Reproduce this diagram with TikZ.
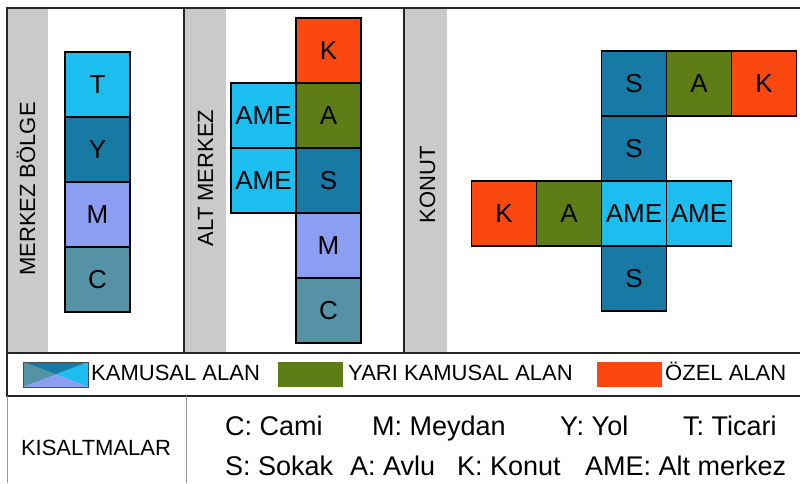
\documentclass[tikz,border=0pt]{standalone}
\usepackage{fontspec}
\setmainfont{Liberation Sans}
\usepackage{tikz}
\usetikzlibrary{positioning}

\begin{document}
\begin{tikzpicture}[x=1pt, y=-1pt]

        \useasboundingbox (0,0) rectangle (800,483);
        \definecolor{cyanblue}{RGB}{28, 190, 240}
        \definecolor{deepblue}{RGB}{22, 122, 165}
        \definecolor{lilacblue}{RGB}{140, 158, 242}
        \definecolor{tealgray}{RGB}{86, 146, 166}
        \definecolor{olivegreen}{RGB}{95, 125, 22}
        \definecolor{redorange}{RGB}{250, 72, 16}
        \definecolor{stripgray}{RGB}{202, 202, 202}
        \tikzset{
            cell/.style={draw=black, line width=1.3pt, outer sep=0pt, inner sep=0pt, minimum width=65pt, minimum height=65pt, font=\fontsize{26}{26}\selectfont},
            cyancell/.style={cell, fill=cyanblue},
            bluecell/.style={cell, fill=deepblue},
            lilaccell/.style={cell, fill=lilacblue},
            tealcell/.style={cell, fill=tealgray},
            greencell/.style={cell, fill=olivegreen},
            redcell/.style={cell, fill=redorange},
            frame/.style={draw=black!85, line width=1.5pt},
            tableline/.style={draw=black!40, line width=1pt},
            sidelabel/.style={rotate=90, anchor=base, inner sep=0pt, font=\fontsize{22}{22}\selectfont},
            keybox/.style={inner sep=0pt, outer sep=0pt, minimum width=65pt, minimum height=25pt},
            keytext/.style={anchor=base west, inner sep=0pt, font=\fontsize{22}{22}\selectfont},
            abbr/.style={anchor=base west, inner sep=0pt, font=\fontsize{27}{27}\selectfont}
        }


        \fill[stripgray] (8, 8) rectangle (48, 353);
        \fill[stripgray] (185, 8) rectangle (226, 353);
        \fill[stripgray] (405, 8) rectangle (447, 353);
        \draw[frame] (800, 8) -- (7, 8) -- (7, 396) -- (800, 396);
        \draw[frame] (7, 353) -- (800, 353);
        \draw[frame] (184, 8) -- (184, 353);
        \draw[frame] (404, 8) -- (404, 353);
        \draw[tableline] (7, 396) -- (7, 483);
        \draw[tableline] (186, 396) -- (186, 483);


        \node[sidelabel] (merkezlbl) at (35, 189) {MERKEZ BÖLGE};
        \node[sidelabel] (altlbl) at (213, 178) {ALT MERKEZ};
        \node[sidelabel] (konutlbl) at (435, 185) {KONUT};


        \node[cyancell] (mtic) at (97.5, 84.5) {T};
        \node[bluecell, below=0pt of mtic] (myol) {Y};
        \node[lilaccell, below=0pt of myol] (mmey) {M};
        \node[tealcell, below=0pt of mmey] (mcam) {C};


        \node[redcell] (akon) at (328.5, 50.5) {K};
        \node[greencell, below=0pt of akon] (aavl) {A};
        \node[bluecell, below=0pt of aavl] (asok) {S};
        \node[lilaccell, below=0pt of asok] (amey) {M};
        \node[tealcell, below=0pt of amey] (acam) {C};
        \node[cyancell, left=0pt of aavl] (aameone) {AME};
        \node[cyancell, left=0pt of asok] (aametwo) {AME};


        \node[bluecell] (ksokone) at (634, 83.5) {S};
        \node[greencell, right=0pt of ksokone] (kavlone) {A};
        \node[redcell, right=0pt of kavlone] (kkonone) {K};
        \node[bluecell, below=0pt of ksokone] (ksoktwo) {S};
        \node[cyancell, below=0pt of ksoktwo] (kameone) {AME};
        \node[cyancell, right=0pt of kameone] (kametwo) {AME};
        \node[greencell, left=0pt of kameone] (kavltwo) {A};
        \node[redcell, left=0pt of kavltwo] (kkontwo) {K};
        \node[bluecell, below=0pt of kameone] (ksokthree) {S};


        \node[keybox, draw=black!70, line width=0.8pt, path picture={
            \fill[tealgray] (path picture bounding box.south west) -- (path picture bounding box.center) -- (path picture bounding box.north west) -- cycle;
            \fill[deepblue] (path picture bounding box.north west) -- (path picture bounding box.center) -- (path picture bounding box.north east) -- cycle;
            \fill[cyanblue] (path picture bounding box.north east) -- (path picture bounding box.center) -- (path picture bounding box.south east) -- cycle;
            \fill[lilacblue] (path picture bounding box.south west) -- (path picture bounding box.center) -- (path picture bounding box.south east) -- cycle;
        }] (kamusalkey) at (56, 374.5) {};
        \node[keytext] (kamusaltxt) at (91, 380) {KAMUSAL ALAN};
        \node[keybox, fill=olivegreen] (yarikey) at (310.5, 374.5) {};
        \node[keytext] (yaritxt) at (348, 380) {YARI KAMUSAL ALAN};
        \node[keybox, fill=redorange] (ozelkey) at (629.5, 374.5) {};
        \node[keytext] (ozeltxt) at (665, 380) {ÖZEL ALAN};


        \node[keytext, anchor=base] (kisaltmalar) at (96, 455) {KISALTMALAR};
        \node[abbr] (cami) at (225, 435) {C: Cami};
        \node[abbr] (meydan) at (372, 435) {M: Meydan};
        \node[abbr] (yol) at (560, 435) {Y: Yol};
        \node[abbr] (ticari) at (683, 435) {T: Ticari};
        \node[abbr] (sokak) at (225, 475) {S: Sokak};
        \node[abbr] (avlu) at (350, 475) {A: Avlu};
        \node[abbr] (konut) at (457, 475) {K: Konut};
        \node[abbr] (altmerkez) at (585, 475) {AME: Alt merkez};

    \end{tikzpicture}
\end{document}
